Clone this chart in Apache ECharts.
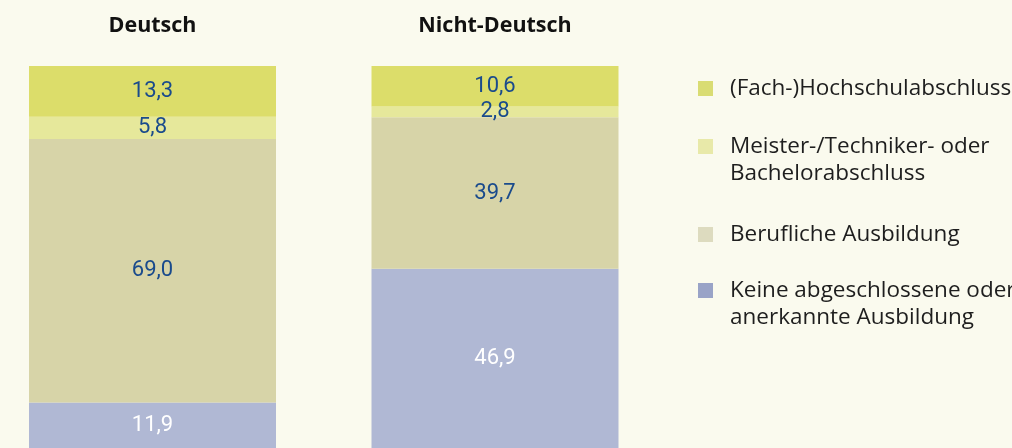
<!DOCTYPE html>
<html>
<head>
<meta charset="utf-8">
<script src="https://cdn.jsdelivr.net/npm/echarts@6/dist/echarts.min.js"></script>
<style>
    html, body { margin: 0; padding: 0; background: #fafaee; }
    #chart { width: 1012px; height: 448px; }
</style>
</head>
<body>
<div id="chart"></div>
<script>
// Gruppen (Kategorien) und Anteile in %
const groups = ['Deutsch', 'Nicht-Deutsch'];
const seriesNames = [
    'Keine abgeschlossene oder anerkannte Ausbildung',
    'Berufliche Ausbildung',
    'Meister-/Techniker- oder Bachelorabschluss',
    '(Fach-)Hochschulabschluss'
];
const keineAusbildung = [11.9, 46.9];
const beruflich = [69.0, 39.7];
const meister = [5.8, 2.8];
const hochschule = [13.3, 10.6];

const barColors = ['#b0b8d4', '#d7d4a8', '#e6e89b', '#dcdd6a'];
const legendColors = ['#99a3c7', '#dddbbf', '#e8e9a9', '#d9dc73'];
const labelColors = ['#ffffff', '#1a4b8c', '#1a4b8c', '#1a4b8c'];

const legendText = {
    'Keine abgeschlossene oder anerkannte Ausbildung': '\nKeine abgeschlossene oder\nanerkannte Ausbildung',
    'Berufliche Ausbildung': 'Berufliche Ausbildung',
    'Meister-/Techniker- oder Bachelorabschluss': '\nMeister-/Techniker- oder\nBachelorabschluss',
    '(Fach-)Hochschulabschluss': '(Fach-)Hochschulabschluss'
};
// top-Position jeder Legende (von oben nach unten)
const legendTops = [245, 216, 101, 70];

const chart = echarts.init(document.getElementById('chart'));

const values = [keineAusbildung, beruflich, meister, hochschule];
let series = [];
for (let i = 0; i < seriesNames.length; i++) {
    series.push({
        name: seriesNames[i],
        type: 'bar',
        stack: 'total',
        barWidth: 247,
        clip: false,
        data: values[i],
        itemStyle: { color: barColors[i] },
        label: {
            show: true,
            position: 'inside',
            color: labelColors[i],
            fontFamily: 'Roboto',
            fontSize: 22,
            formatter: function (p) {
                return p.value.toFixed(1).replace('.', ',');
            }
        }
    });
}

let legends = [];
for (let i = 0; i < seriesNames.length; i++) {
    legends.push({
        orient: 'vertical',
        left: 693,
        top: legendTops[i],
        itemWidth: 15,
        itemHeight: 15,
        selectedMode: false,
        icon: 'rect',
        data: [{ name: seriesNames[i], itemStyle: { color: legendColors[i] } }],
        formatter: function (name) { return legendText[name]; },
        textStyle: {
            fontFamily: 'Open Sans',
            fontSize: 22.5,
            lineHeight: 27,
            color: '#1e1e1e',
            padding: [0, 0, 0, 12]
        }
    });
}

const option = {
    backgroundColor: '#fafaee',
    animation: false,
    // Balkenmitten bei x=152.5 und x=495
    grid: { left: 152.5, right: 517, top: 66, bottom: 0 },
    xAxis: {
        type: 'category',
        position: 'top',
        boundaryGap: false,
        data: groups,
        axisLine: { show: false },
        axisTick: { show: false },
        splitLine: { show: false },
        axisLabel: {
            margin: 29,
            lineHeight: 22,
            fontFamily: 'Open Sans',
            fontWeight: 'bold',
            fontSize: 21.5,
            color: '#111111'
        }
    },
    yAxis: {
        type: 'value',
        min: 0,
        max: 100,
        show: false
    },
    legend: legends,
    series: series
};
chart.setOption(option);
</script>
</body>
</html>
